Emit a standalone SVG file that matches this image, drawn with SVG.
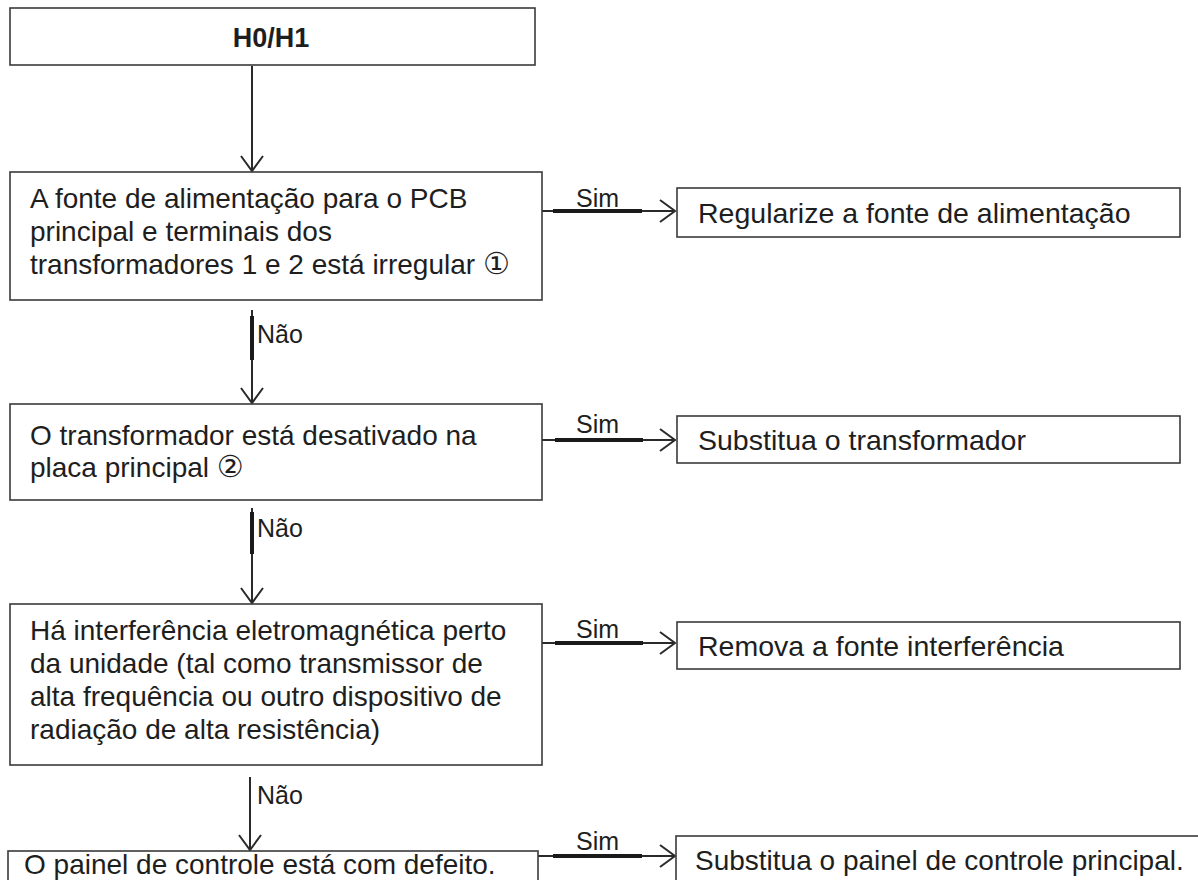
<svg xmlns="http://www.w3.org/2000/svg" width="1198" height="880" viewBox="0 0 1198 880">
  <defs>
    <style>
      .box { fill: #ffffff; stroke: #3a3a3a; stroke-width: 1.6; }
      .t { font-family: "Liberation Sans", "DejaVu Sans", Arial, sans-serif; font-size: 28px; fill: #1e1e1e; }
      .tr { font-family: "Liberation Sans", "DejaVu Sans", Arial, sans-serif; font-size: 28.5px; fill: #1e1e1e; }
      .circ { font-family: "DejaVu Sans", sans-serif; font-size: 30px; }
      .tb { font-family: "Liberation Sans", Arial, sans-serif; font-size: 27px; font-weight: bold; fill: #1e1e1e; }
      .lbl { font-family: "Liberation Sans", Arial, sans-serif; font-size: 25px; fill: #1e1e1e; }
      .c { fill: none; stroke: #2a2a2a; stroke-width: 2; }
      .thick { fill: none; stroke: #1a1a1a; stroke-width: 4; }
    </style>
    <marker id="arr" markerUnits="userSpaceOnUse" markerWidth="24" markerHeight="26" refX="16" refY="12" orient="auto">
      <path d="M1,1 L16,12 L1,23" fill="none" stroke="#2a2a2a" stroke-width="2"/>
    </marker>
  </defs>
  <rect width="1198" height="880" fill="#ffffff"/>

  <g id="connectors">
    <line class="c" x1="252" y1="66" x2="252" y2="171" marker-end="url(#arr)"/>
    <line class="c" x1="542" y1="211" x2="675" y2="211" marker-end="url(#arr)"/>
    <line class="thick" x1="553" y1="211" x2="642" y2="211"/>
    <line class="c" x1="252" y1="310" x2="252" y2="403" marker-end="url(#arr)"/>
    <line class="thick" x1="252" y1="316" x2="252" y2="360"/>
    <line class="c" x1="542" y1="440" x2="675" y2="440" marker-end="url(#arr)"/>
    <line class="thick" x1="555" y1="440" x2="643" y2="440"/>
    <line class="c" x1="252" y1="508" x2="252" y2="603" marker-end="url(#arr)"/>
    <line class="thick" x1="252" y1="512" x2="252" y2="554"/>
    <line class="c" x1="542" y1="643" x2="675" y2="643" marker-end="url(#arr)"/>
    <line class="thick" x1="555" y1="643" x2="643" y2="643"/>
    <line class="c" x1="250" y1="777" x2="250" y2="850" stroke-width="2.5" marker-end="url(#arr)"/>
    <line class="c" x1="538" y1="856" x2="675" y2="856" marker-end="url(#arr)"/>
    <line class="thick" x1="553" y1="856" x2="642" y2="856"/>
    <text class="lbl" x="576" y="207">Sim</text>
    <text class="lbl" x="257" y="343">Não</text>
    <text class="lbl" x="576" y="433">Sim</text>
    <text class="lbl" x="257" y="537">Não</text>
    <text class="lbl" x="576" y="638">Sim</text>
    <text class="lbl" x="257" y="804">Não</text>
    <text class="lbl" x="576" y="850">Sim</text>
  </g>

  <g id="n-h0h1">
    <rect class="box" x="10" y="8" width="525" height="57"/>
    <text class="tb" x="271" y="47" text-anchor="middle">H0/H1</text>
  </g>

  <g id="n-fonte">
    <rect class="box" x="10" y="172" width="532" height="128"/>
    <text class="t" x="30" y="208">A fonte de alimentação para o PCB</text>
    <text class="t" x="30" y="241">principal e terminais dos</text>
    <text class="t" x="30" y="274">transformadores 1 e 2 está irregular <tspan class="circ">①</tspan></text>
  </g>

  <g id="n-regularize">
    <rect class="box" x="677" y="188" width="503" height="49"/>
    <text class="tr" x="698" y="223">Regularize a fonte de alimentação</text>
  </g>

  <g id="n-transformador">
    <rect class="box" x="10" y="404" width="532" height="96"/>
    <text class="t" x="30" y="445">O transformador está desativado na</text>
    <text class="t" x="30" y="477">placa principal <tspan class="circ">②</tspan></text>
  </g>

  <g id="n-substitua-transf">
    <rect class="box" x="677" y="416" width="503" height="47"/>
    <text class="tr" x="698" y="450">Substitua o transformador</text>
  </g>

  <g id="n-interferencia">
    <rect class="box" x="10" y="604" width="532" height="161"/>
    <text class="t" x="30" y="640">Há interferência eletromagnética perto</text>
    <text class="t" x="30" y="673">da unidade (tal como transmissor de</text>
    <text class="t" x="30" y="706">alta frequência ou outro dispositivo de</text>
    <text class="t" x="30" y="739">radiação de alta resistência)</text>
  </g>

  <g id="n-remova">
    <rect class="box" x="677" y="622" width="503" height="47"/>
    <text class="tr" x="698" y="656">Remova a fonte interferência</text>
  </g>

  <g id="n-painel">
    <rect class="box" x="8" y="851" width="530" height="45"/>
    <text class="t" x="24" y="874">O painel de controle está com defeito.</text>
  </g>

  <g id="n-substitua-painel">
    <rect class="box" x="676" y="836" width="540" height="60"/>
    <text class="t" x="695" y="870">Substitua o painel de controle principal.</text>
  </g>
</svg>
